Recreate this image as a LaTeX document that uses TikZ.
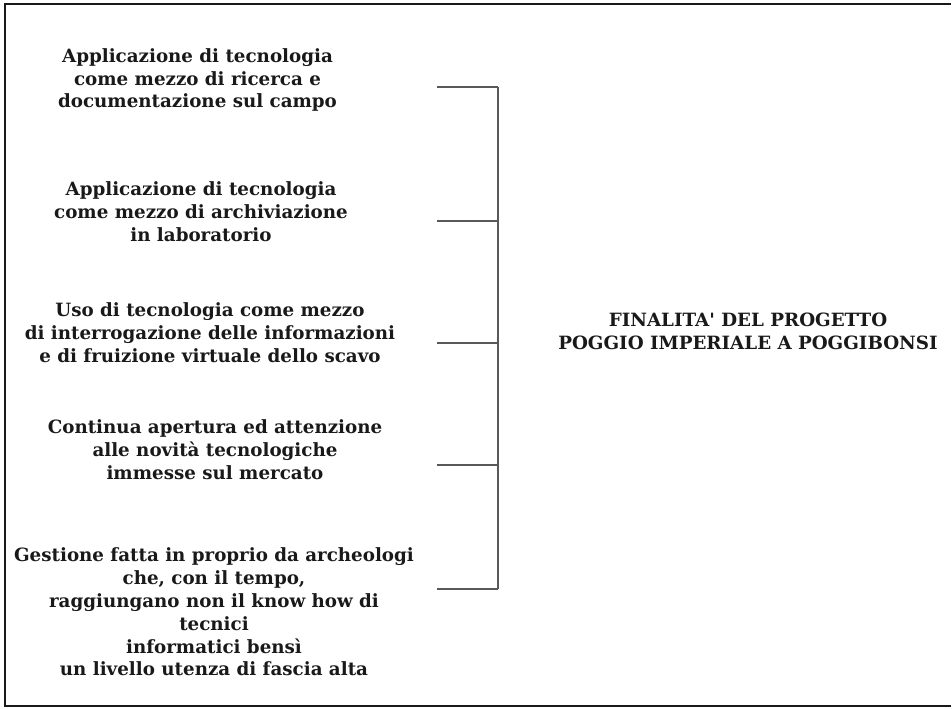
\documentclass[tikz,border=0pt]{standalone}
\usepackage{fontspec}
\setmainfont{DejaVu Serif}
\usepackage{tikz}
\usetikzlibrary{positioning}
\definecolor{mainBlack}{gray}{0.1}
\definecolor{subGray}{gray}{0.35}

\begin{document}
\begin{tikzpicture}[scale=1.0]
    \tikzset{
        aim/.style={align=center, font=\fontsize{10.4}{13}\selectfont\bfseries, text=mainBlack},
        tick/.style={line width=0.8pt, subGray},
    }
    \useasboundingbox (0,0) rectangle (19.04,14.18);

    % frame
    \draw[line width=1.4pt, mainBlack] (19.02,14.10) -- (0.10,14.10) -- (0.10,0.06) -- (19.02,0.06);

    % aims
    \node[aim] (aim1) at (3.95,12.58) {Applicazione di tecnologia\\ come mezzo di ricerca e\\ documentazione sul campo};
    \node[aim] (aim2) at (4.02,9.94) {Applicazione di tecnologia\\ come mezzo di archiviazione\\ in laboratorio};
    \node[aim] (aim3) at (4.20,7.52) {Uso di tecnologia come mezzo\\ di interrogazione delle informazioni\\ e di fruizione virtuale dello scavo};
    \node[aim] (aim4) at (4.30,5.18) {Continua apertura ed attenzione\\ alle novità tecnologiche\\ immesse sul mercato};
    \node[aim] (aim5) at (4.28,1.94) {Gestione fatta in proprio da archeologi\\ che, con il tempo,\\ raggiungano non il know how di\\ tecnici\\ informatici bensì\\ un livello utenza di fascia alta};

    \node[aim] (goal) at (14.96,7.56) {FINALITA\textquotesingle{} DEL PROGETTO\\ POGGIO IMPERIALE A POGGIBONSI};

    % bracket
    \coordinate (t1) at (8.74,12.44);
    \coordinate (t2) at (8.74,9.76);
    \coordinate (t3) at (8.74,7.32);
    \coordinate (t4) at (8.74,4.88);
    \coordinate (t5) at (8.74,2.40);
    \foreach \i in {1,...,5}
        \draw[tick] (t\i) -- ++(1.22,0) coordinate (s\i);
    \draw[tick] (s1) -- (s5);
\end{tikzpicture}
\end{document}
